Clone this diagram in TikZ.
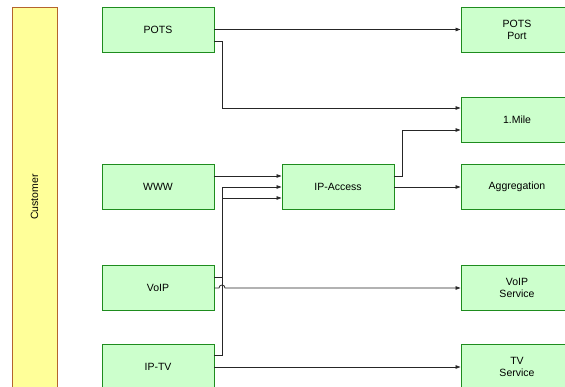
\documentclass[tikz,border=0pt]{standalone}
\usepackage{fontspec}
\setmainfont{Liberation Sans}
\usetikzlibrary{arrows.meta,positioning}
\definecolor{boxfill}{HTML}{CCFFCC}
\definecolor{boxline}{HTML}{1E8C1E}
\definecolor{custfill}{HTML}{FFFF99}
\definecolor{custline}{HTML}{B4642D}
\tikzset{
  unit/.style={draw=boxline, fill=boxfill, line width=0.9pt, minimum width=112pt,
    minimum height=45pt, inner sep=0pt, align=center,
    font=\fontsize{10.5}{12}\selectfont},
  link/.style={draw=black!85, line width=0.8pt, -{Triangle[length=5pt,width=3.5pt]}},
}
\begin{document}
\begin{tikzpicture}[x=1pt,y=-1pt]
  \clip (0,0) rectangle (565,387);
  % customer lane
  \node[draw=custline, fill=custfill, line width=0.9pt, minimum width=45pt,
        minimum height=380pt, inner sep=0pt] (cust) at (34.5,197) {};
  \node[rotate=90, font=\fontsize{10.5}{12}\selectfont] (custlabel) at (cust.center) {Customer};
  % customer side services
  \node[unit] (pots)  at (158,29.5) {POTS};
  \node[unit] (www)   at (158,187)  {WWW};
  \node[unit] (voip)  at (158,288)  {VoIP};
  \node[unit] (iptv)  at (158,367)  {IP-TV};
  % access
  \node[unit] (ipacc) at (338,187)  {IP-Access};
  % network side
  \node[unit] (potsport) at (517,29.5) {POTS\\Port};
  \node[unit] (mile)     at (517,119.5) {1.Mile};
  \node[unit] (aggr)     at (517,187)  {Aggregation};
  \node[unit] (voipsvc)  at (517,288)  {VoIP\\Service};
  \node[unit] (tvsvc)    at (517,367)  {TV\\Service};
  % connectors
  \draw[link] (pots.east) -- (potsport.west);
  \draw[link] ([yshift=-12pt]pots.east) -| (222,108) -- ([yshift=11.5pt]mile.west);
  \draw[link] ([yshift=11pt]www.east) -- ([yshift=11pt]ipacc.west);
  \draw[link] ([yshift=11pt]voip.east) -| (222,187) -- (ipacc.west);
  \draw[link] ([yshift=12pt]iptv.east) -| (222,198) -- ([yshift=-11pt]ipacc.west);
  \draw[link] ([yshift=11pt]ipacc.east) -| (402,130) -- ([yshift=-10.5pt]mile.west);
  \draw[link] (ipacc.east) -- (aggr.west);
  \draw[link] (voip.east) -- (219,288) arc[start angle=180, end angle=360, radius=3] -- (voipsvc.west);
  \draw[link] (iptv.east) -- (tvsvc.west);
\end{tikzpicture}
\end{document}
